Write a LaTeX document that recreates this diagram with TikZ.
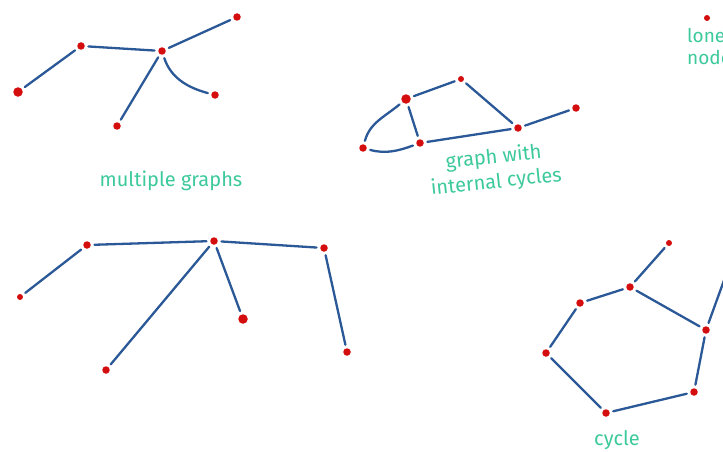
\documentclass[tikz,border=0pt]{standalone}
\usepackage{fontspec}
\setmainfont{Fira Sans}
\definecolor{edgeblue}{HTML}{2B5896}
\definecolor{dotred}{HTML}{D40E0E}
\definecolor{labelgreen}{HTML}{3CC99B}
\tikzset{
  dot/.style={circle,fill=dotred,inner sep=0pt,minimum size=7.5pt},
  bigdot/.style={circle,fill=dotred,inner sep=0pt,minimum size=9.5pt},
  smalldot/.style={circle,fill=dotred,inner sep=0pt,minimum size=6pt},
  edge/.style={draw=edgeblue,line width=2.3pt,line cap=round,shorten <=3.5pt,shorten >=3.5pt},
  lbl/.style={text=labelgreen,font=\fontsize{20}{25}\selectfont,align=center,inner sep=0pt}
}
\begin{document}
\begin{tikzpicture}[x=1pt,y=-1pt]
\useasboundingbox (0,0) rectangle (723,452);
\clip (0,0) rectangle (723,452);
% graph 1
\node[bigdot] (a1) at (18,92) {};
\node[dot] (a2) at (81,46) {};
\node[dot] (a3) at (162,51) {};
\node[dot] (a4) at (237,17) {};
\node[dot] (a5) at (117,126) {};
\node[dot] (a6) at (215,95) {};
\draw[edge] (a1) -- (a2);
\draw[edge] (a2) -- (a3);
\draw[edge] (a3) -- (a4);
\draw[edge] (a3) -- (a5);
\draw[edge] (a3) to[out=-72,in=165] (a6);
\node[lbl] (t1) at (171,181) {multiple graphs};
% graph 2
\node[dot] (b1) at (363,148) {};
\node[bigdot] (b2) at (406,99) {};
\node[smalldot] (b3) at (461,79) {};
\node[dot] (b4) at (420,143) {};
\node[dot] (b5) at (518,128) {};
\node[dot] (b6) at (576,108) {};
\draw[edge] (b1) to[out=75,in=220] (b2);
\draw[edge] (b2) -- (b3);
\draw[edge] (b3) -- (b5);
\draw[edge] (b2) -- (b4);
\draw[edge] (b1) to[out=-15,in=200] (b4);
\draw[edge] (b4) -- (b5);
\draw[edge] (b5) -- (b6);
\node[lbl,rotate=6] (t2) at (495,170) {graph with\\internal cycles};
% lone node
\node[smalldot] (l1) at (707,18) {};
\node[lbl,anchor=north west,align=left,font=\fontsize{19}{22}\selectfont] (t3) at (687,28) {lone\\node};
% graph 3
\node[smalldot] (c1) at (20,297) {};
\node[dot] (c2) at (87,245) {};
\node[dot] (c3) at (214,241) {};
\node[dot] (c4) at (324,248) {};
\node[dot] (c5) at (106,370) {};
\node[bigdot] (c6) at (243,319) {};
\node[dot] (c7) at (347,352) {};
\draw[edge] (c1) -- (c2);
\draw[edge] (c2) -- (c3);
\draw[edge] (c3) -- (c4);
\draw[edge] (c3) -- (c5);
\draw[edge] (c3) -- (c6);
\draw[edge] (c4) -- (c7);
% cycle
\node[smalldot] (d1) at (669,243) {};
\node[dot] (d2) at (630,287) {};
\node[dot] (d3) at (580,303) {};
\node[dot] (d4) at (546,353) {};
\node[dot] (d5) at (606,413) {};
\node[dot] (d6) at (694,392) {};
\node[dot] (d7) at (706,330) {};
\coordinate (d8) at (735,250);
\draw[edge] (d1) -- (d2);
\draw[edge] (d2) -- (d3);
\draw[edge] (d3) -- (d4);
\draw[edge] (d4) -- (d5);
\draw[edge] (d5) -- (d6);
\draw[edge] (d6) -- (d7);
\draw[edge] (d7) -- (d2);
\draw[edge,shorten >=0pt] (d7) -- (d8);
\node[lbl] (t4) at (617,440) {cycle};
\end{tikzpicture}
\end{document}
